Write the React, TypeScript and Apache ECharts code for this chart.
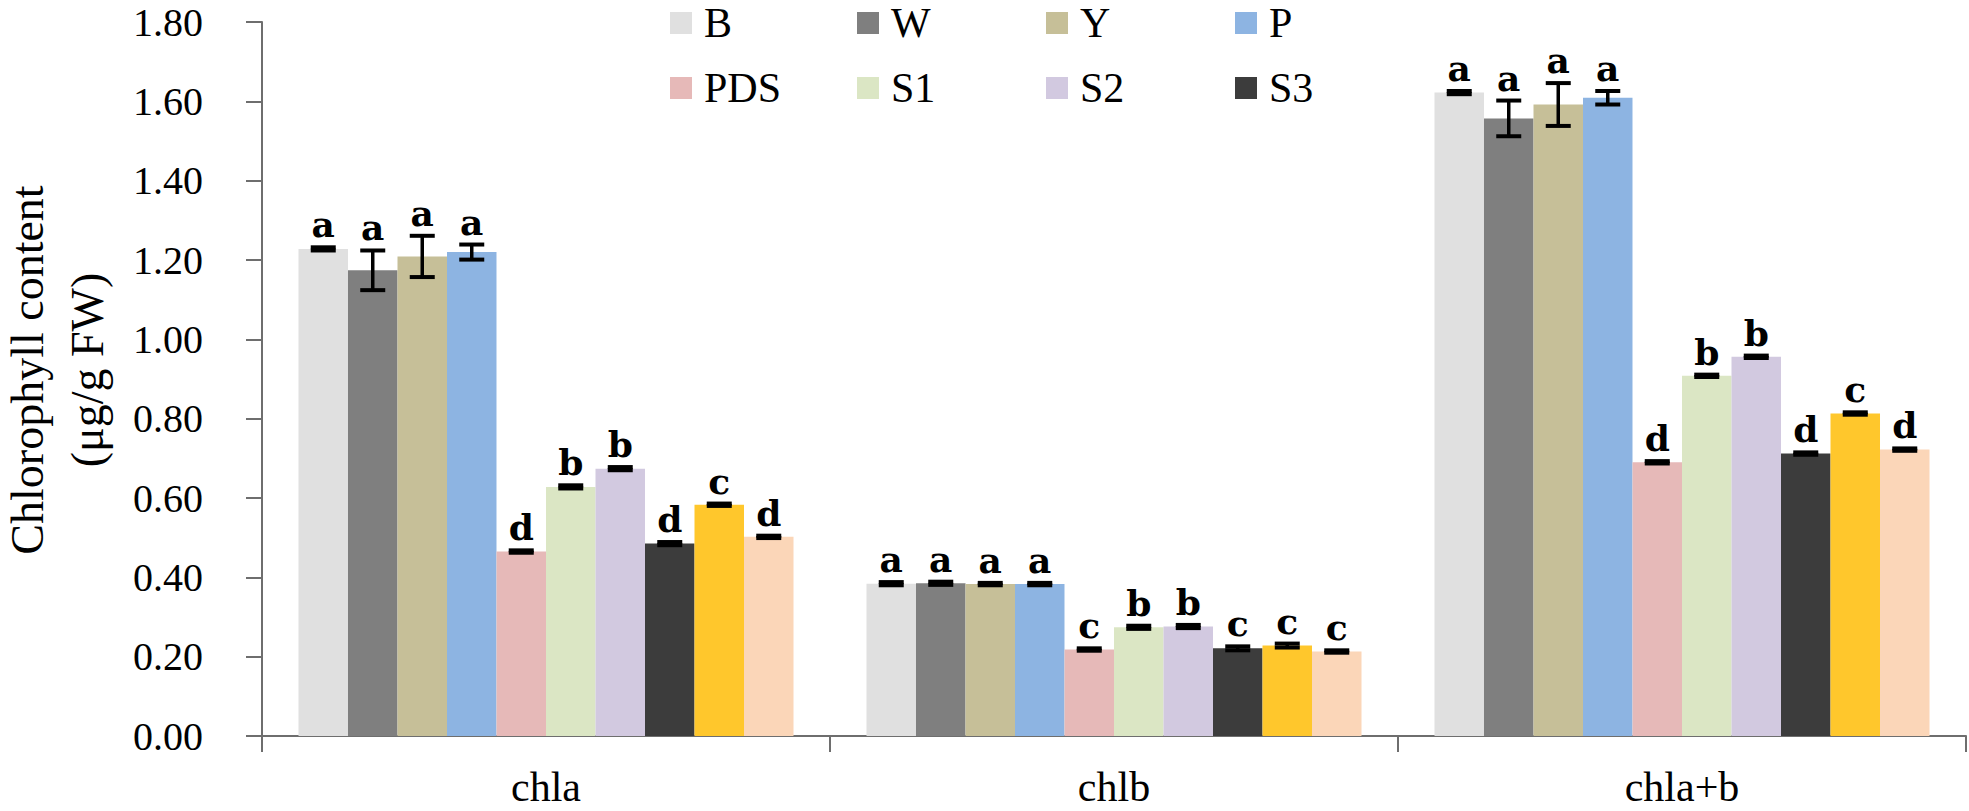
import React, { useEffect, useRef } from "react";
import * as echarts from "echarts";

const categories = ["chla", "chlb", "chla+b"];
const seriesNames = ["B", "W", "Y", "P", "PDS", "S1", "S2", "S3", "S4", "S5"];
const legendNames = ["B", "W", "Y", "P", "PDS", "S1", "S2", "S3"];
const colors = ["#e0e0e0", "#7f7f7f", "#c6bf98", "#8db4e2", "#e6b9b8", "#dbe6c4", "#d2c9e0", "#3c3c3c", "#ffc72c", "#fbd6b8"];

// values per series: [chla, chlb, chla+b]
const valB = [1.228, 0.384, 1.622];
const valW = [1.174, 0.385, 1.557];
const valY = [1.209, 0.383, 1.592];
const valP = [1.220, 0.383, 1.609];
const valPDS = [0.465, 0.218, 0.690];
const valS1 = [0.628, 0.274, 0.908];
const valS2 = [0.674, 0.276, 0.956];
const valS3 = [0.485, 0.221, 0.712];
const valS4 = [0.583, 0.228, 0.813];
const valS5 = [0.502, 0.213, 0.722];
const values = [valB, valW, valY, valP, valPDS, valS1, valS2, valS3, valS4, valS5];

const errB = [0.004, 0.004, 0.004];
const errW = [0.05, 0.004, 0.045];
const errY = [0.052, 0.003, 0.054];
const errP = [0.019, 0.003, 0.017];
const errPDS = [0.003, 0.003, 0.003];
const errS1 = [0.004, 0.004, 0.003];
const errS2 = [0.004, 0.004, 0.003];
const errS3 = [0.004, 0.005, 0.003];
const errS4 = [0.003, 0.005, 0.003];
const errS5 = [0.003, 0.003, 0.003];
const errors = [errB, errW, errY, errP, errPDS, errS1, errS2, errS3, errS4, errS5];

const lettersB = ["a", "a", "a"];
const lettersW = ["a", "a", "a"];
const lettersY = ["a", "a", "a"];
const lettersP = ["a", "a", "a"];
const lettersPDS = ["d", "c", "d"];
const lettersS1 = ["b", "b", "b"];
const lettersS2 = ["b", "b", "b"];
const lettersS3 = ["d", "c", "d"];
const lettersS4 = ["c", "c", "c"];
const lettersS5 = ["d", "c", "d"];
const letters = [lettersB, lettersW, lettersY, lettersP, lettersPDS, lettersS1, lettersS2, lettersS3, lettersS4, lettersS5];

const yMin = 0;
const yMax = 1.8;
const yInterval = 0.2;

const CAT_GAP = 0.1285;
const SERIF = "'Liberation Serif', 'Times New Roman', serif";
const LETTER_FONT = "bold 36px 'DejaVu Serif', serif";

export default function App() {
  const ref = useRef<HTMLDivElement>(null);
  useEffect(() => {
    if (!ref.current) return;
    const chart = echarts.init(ref.current, null, { renderer: "svg" });
    const n = seriesNames.length;

    const barSeries = seriesNames.map((name, i) => ({
      name,
      type: "bar",
      data: values[i],
      barGap: "0%",
      barCategoryGap: CAT_GAP * 100 + "%",
      itemStyle: { color: colors[i] },
      z: 2,
    }));

    const errSeries = seriesNames.map((name, i) => ({
      type: "custom",
      name: name + "-err",
      z: 5,
      data: values[i].map((v, j) => [j, v, errors[i][j]]),
      encode: { x: 0, y: 1 },
      renderItem: (params: any, api: any) => {
        const cat = api.value(0);
        const v = api.value(1);
        const e = api.value(2);
        const letter = letters[i][cat];
        const band = api.size([1, 0])[0];
        const groupW = band * (1 - CAT_GAP);
        const bw = groupW / n;
        const base = api.coord([cat, v]);
        const cx = base[0] - groupW / 2 + (i + 0.5) * bw;
        const top = api.coord([cat, v + e])[1];
        const bot = api.coord([cat, v - e])[1];
        const capW = 25;
        const ls = { stroke: "#000", lineWidth: 4 };
        return {
          type: "group",
          children: [
            { type: "line", shape: { x1: cx, y1: top, x2: cx, y2: bot }, style: { stroke: "#000", lineWidth: 3.5 } },
            { type: "line", shape: { x1: cx - capW / 2, y1: top, x2: cx + capW / 2, y2: top }, style: ls },
            { type: "line", shape: { x1: cx - capW / 2, y1: bot, x2: cx + capW / 2, y2: bot }, style: ls },
            {
              type: "text",
              style: {
                text: letter,
                x: cx,
                y: top - 5,
                align: "center",
                verticalAlign: "bottom",
                font: LETTER_FONT,
                fill: "#000",
              },
            },
          ],
        };
      },
    }));

    const colX = [670, 857, 1046, 1235];
    const rowY = [2, 67];
    const legends = legendNames.map((nm, k) => ({
      data: [nm],
      left: colX[k % 4],
      top: rowY[Math.floor(k / 4)],
      orient: "horizontal",
      itemWidth: 22,
      itemHeight: 22,
      icon: "rect",
      itemGap: 0,
      padding: 0,
      textStyle: { fontFamily: SERIF, fontSize: 42, lineHeight: 40, color: "#000", padding: [0, 0, 0, 7] },
      selectedMode: false,
    }));

    chart.setOption({
      animation: false,
      backgroundColor: "#fff",
      legend: legends,
      grid: { left: 262, right: 3, top: 22, bottom: 75, containLabel: false },
      xAxis: {
        type: "category",
        data: categories,
        axisLine: { lineStyle: { color: "#6e6e6e", width: 2 } },
        axisTick: { show: true, length: 16, lineStyle: { color: "#6e6e6e", width: 2 } },
        axisLabel: { color: "#000", fontFamily: SERIF, fontSize: 42, lineHeight: 38, margin: 32 },
      },
      yAxis: {
        type: "value",
        min: yMin,
        max: yMax,
        interval: yInterval,
        axisLine: { show: true, lineStyle: { color: "#6e6e6e", width: 2 } },
        axisTick: { show: true, length: 16, lineStyle: { color: "#6e6e6e", width: 2 } },
        splitLine: { show: false },
        axisLabel: {
          color: "#000",
          fontFamily: SERIF,
          fontSize: 40,
          lineHeight: 34,
          margin: 59,
          formatter: (v: number) => v.toFixed(2),
        },
      },
      graphic: [
        {
          type: "text",
          x: 57,
          y: 370,
          rotation: Math.PI / 2,
          style: {
            text: "Chlorophyll content\n(μg/g FW)",
            font: "46px " + SERIF,
            fill: "#000",
            align: "center",
            verticalAlign: "middle",
            lineHeight: 60,
          },
        },
      ],
      series: [...barSeries, ...errSeries],
    });
    return () => chart.dispose();
  }, []);
  return <div ref={ref} style={{ position: "fixed", left: 0, top: 0, width: 1969, height: 811 }} />;
}
